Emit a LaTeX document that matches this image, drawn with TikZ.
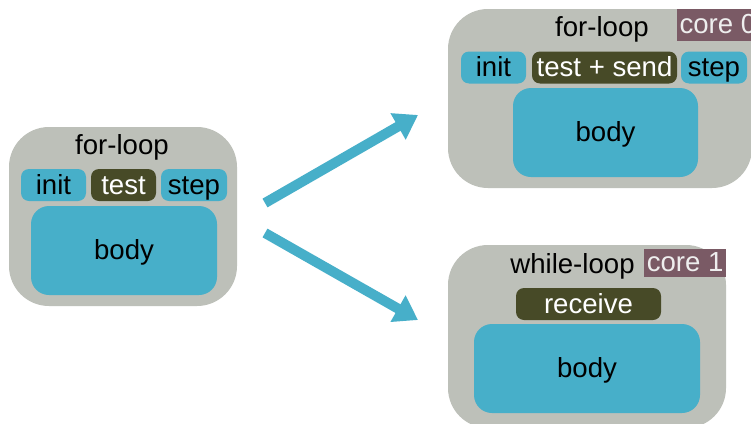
\documentclass[tikz,border=0pt]{standalone}
\usepackage{fontspec}
\setmainfont{Liberation Sans}
\usetikzlibrary{arrows.meta}
\definecolor{cgray}{HTML}{BDC0B9}
\definecolor{cblue}{HTML}{47AFC9}
\definecolor{colive}{HTML}{474A27}
\definecolor{cmauve}{HTML}{7A5A65}
\definecolor{clight}{HTML}{EEEEEE}
\begin{document}
\begin{tikzpicture}[x=1pt,y=-1pt,
  every node/.style={font=\fontsize{27.6}{32}\selectfont, inner sep=0pt, outer sep=0pt},
  container/.style={fill=cgray, rounded corners=40pt},
  smallbox/.style={rounded corners=8pt, minimum height=32pt, text height=20.5pt, text depth=2pt},
  bluebox/.style={smallbox, fill=cblue, text=black},
  olivebox/.style={smallbox, fill=colive, text=white},
  bodybox/.style={fill=cblue, rounded corners=18pt, minimum height=89pt, text height=20.5pt, text depth=2pt},
  title/.style={anchor=base},
  corelab/.style={fill=cmauve, text=clight, inner xsep=2.5pt, text height=20pt, text depth=3pt},
  flow/.style={draw=cblue, line width=10pt, -{Triangle[length=23pt,width=29pt]}}
]
\useasboundingbox (0,0) rectangle (751,423);
\fill[white] (0,0) rectangle (751,423);
\clip (0,0) rectangle (751,423);

% left for-loop
\node[container, minimum width=228pt, minimum height=179pt] (L) at (123,216.5) {};
\node[title] (Lt) at (122,154) {for-loop};
\node[bluebox, minimum width=65pt] (Li) at (53.5,185) {init};
\node[olivebox, minimum width=65pt] (Lte) at (123.5,185) {test};
\node[bluebox, minimum width=66pt] (Ls) at (194,185) {step};
\node[bodybox, minimum width=186pt] (Lb) at (124,250.5) {body};

% top right for-loop (core 0)
\node[container, minimum width=304pt, minimum height=179pt] (T) at (600,98.5) {};
\node[title] (Tt) at (602,36.5) {for-loop};
\node[corelab, anchor=west, minimum height=32pt] (c0) at (677,25) {core 0};
\node[bluebox, minimum width=65pt] (Ti) at (493.5,67.5) {init};
\node[olivebox, minimum width=145pt] (Tte) at (604.5,67.5) {test + send};
\node[bluebox, minimum width=66pt] (Ts) at (714,67.5) {step};
\node[bodybox, minimum width=185pt] (Tb) at (605.5,132.5) {body};

% bottom right while-loop (core 1)
\node[container, minimum width=278pt, minimum height=183pt] (B) at (587,336.5) {};
\node[title] (Bt) at (572.5,273.5) {while-loop};
\node[corelab, anchor=east, minimum height=28pt] (c1) at (726,263) {core 1};
\node[olivebox, minimum width=145pt] (Br) at (588.5,304) {receive};
\node[bodybox, minimum width=226pt] (Bb) at (587,368.5) {body};

% arrows
\coordinate (a1s) at (265,203);
\coordinate (a1e) at (418,115);
\coordinate (a2s) at (265,233);
\coordinate (a2e) at (418,320);
\draw[flow] (a1s) -- (a1e);
\draw[flow] (a2s) -- (a2e);
\end{tikzpicture}
\end{document}
